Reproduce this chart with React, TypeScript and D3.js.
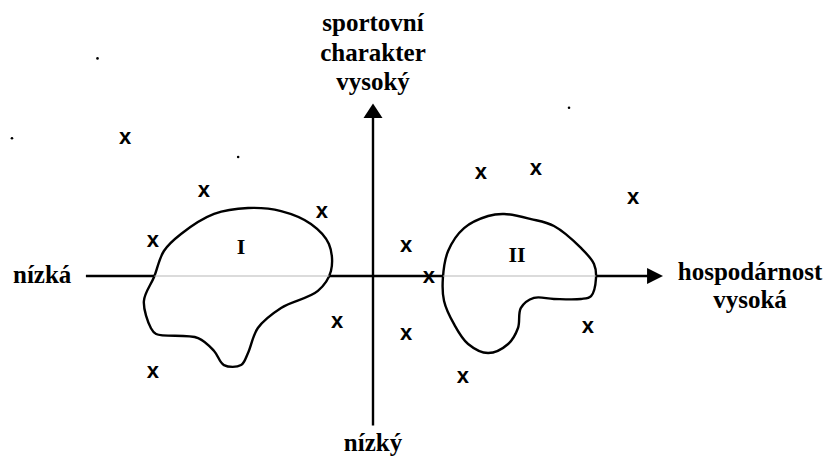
import React from 'react'
import * as d3 from 'd3'

// positions on the map, both axes from -100 to 100
const crosses = [
  [-85.5, 81.2], [-58.3, 50], [-17.6, 37.6], [-75.9, 20.6], [11.4, 17.6],
  [-12.4, -27.1], [11.4, -34.1], [-75.9, -56.5], [37.2, 60.6], [56.2, 62.9],
  [89.7, 45.9], [19.3, -0.6], [74.1, -30], [31, -59.4]
]

const clusterI = [
  [-75.5, -0.6], [-72.1, 14.7], [-66.2, 24.7], [-54.8, 36.5], [-43.1, 40],
  [-31.7, 38.2], [-21.4, 30.6], [-15.2, 18.8], [-14.5, 2.9], [-19, -8.8],
  [-31.7, -18.8], [-39.7, -30.6], [-43.1, -45.3], [-45.5, -52.4], [-51.4, -52.4],
  [-54.8, -44.1], [-60.3, -36.5], [-74.8, -34.1], [-76.6, -30.6], [-79, -14.7]
]

const clusterII = [
  [24.1, -1.2], [25.9, 14.7], [31.4, 28.2], [39.7, 35.3], [45.2, 36.5],
  [54.5, 33.5], [62.4, 29.4], [71.7, 16.5], [76.2, 7.1], [76.9, -1.2],
  [75.2, -11.8], [71.7, -13.5], [62.4, -13.5], [55.5, -12.9], [51, -18.8],
  [50, -30.6], [46.6, -40], [39.7, -45.3], [32.8, -40], [27.9, -28.2], [24.5, -14.7]
]

const clusterLabels = [
  { name: 'I', at: [-45.5, 17.6] },
  { name: 'II', at: [49.7, 12.9] }
]

// scan dust in the original
const specks = [[-95, 128], [-124.5, 81], [-46.5, 70], [67.6, 99]]

const topLabel = ['sportovní', 'charakter', 'vysoký']
const bottomLabel = 'nízký'
const leftLabel = 'nízká'
const rightLabel = ['hospodárnost', 'vysoká']

const W = 830
const H = 459

export default function App() {
  const x = d3.scaleLinear().domain([-100, 100]).range([83, 663])
  const y = d3.scaleLinear().domain([-100, 100]).range([446, 106])

  const blob = d3
    .line()
    .x(d => x(d[0]))
    .y(d => y(d[1]))
    .curve(d3.curveCatmullRomClosed.alpha(0.5))

  const font = '"Liberation Serif", "Times New Roman", serif'
  const x0 = x(0)
  const y0 = y(0)

  return (
    <div style={{ position: 'absolute', left: 0, top: 0 }}>
      <svg width={W} height={H} style={{ display: 'block', background: '#fff' }}>
        <defs>
          <clipPath id="blobs">
            <path d={blob(clusterI)} />
            <path d={blob(clusterII)} />
          </clipPath>
        </defs>

        {/* axes */}
        <line x1={x(-99)} x2={x(96)} y1={y0} y2={y0} stroke="#000" strokeWidth={2.4} />
        <line x1={x0} x2={x0} y1={y(-88)} y2={y(96)} stroke="#000" strokeWidth={2.4} />
        <path
          d={`M${x(100)},${y0} L${x(94.5)},${y0 - 8} L${x(94.5)},${y0 + 8} Z`}
          fill="#000"
        />
        <path d={`M${x0},${y(101.5)} L${x0 - 9.5},${y(93)} L${x0 + 9.5},${y(93)} Z`} fill="#000" />

        {/* clusters */}
        <path d={blob(clusterI)} fill="#fff" stroke="#000" strokeWidth={2.4} />
        <path d={blob(clusterII)} fill="#fff" stroke="#000" strokeWidth={2.4} />
        <line
          x1={x(-100)} x2={x(100)} y1={y0} y2={y0}
          stroke="#b8b8b8" strokeWidth={1.2} clipPath="url(#blobs)"
        />
        {clusterLabels.map(c => (
          <text
            key={c.name}
            x={x(c.at[0])}
            y={y(c.at[1]) + 8}
            textAnchor="middle"
            fontFamily={font}
            fontWeight="bold"
            fontSize={22}
          >
            {c.name}
          </text>
        ))}

        {crosses.map((p, i) => (
          <text
            key={i}
            x={x(p[0])}
            y={y(p[1]) + 6}
            textAnchor="middle"
            fontFamily='"Liberation Sans", Arial, sans-serif'
            fontWeight="bold"
            fontSize={22}
          >
            x
          </text>
        ))}

        {specks.map((p, i) => (
          <circle key={i} cx={x(p[0])} cy={y(p[1])} r={1.3} fill="#000" />
        ))}

        {/* axis labels */}
        {topLabel.map((t, i) => (
          <text
            key={t}
            x={x0}
            y={31 + i * 29.5}
            textAnchor="middle"
            fontFamily={font}
            fontWeight="bold"
            fontSize={25}
          >
            {t}
          </text>
        ))}
        <text x={x0} y={451} textAnchor="middle" fontFamily={font} fontWeight="bold" fontSize={25}>
          {bottomLabel}
        </text>
        <text x={13} y={y0 + 7} fontFamily={font} fontWeight="bold" fontSize={25}>
          {leftLabel}
        </text>
        {rightLabel.map((t, i) => (
          <text
            key={t}
            x={750}
            y={y0 + 4 + i * 28}
            textAnchor="middle"
            fontFamily={font}
            fontWeight="bold"
            fontSize={25}
          >
            {t}
          </text>
        ))}
      </svg>
    </div>
  )
}
